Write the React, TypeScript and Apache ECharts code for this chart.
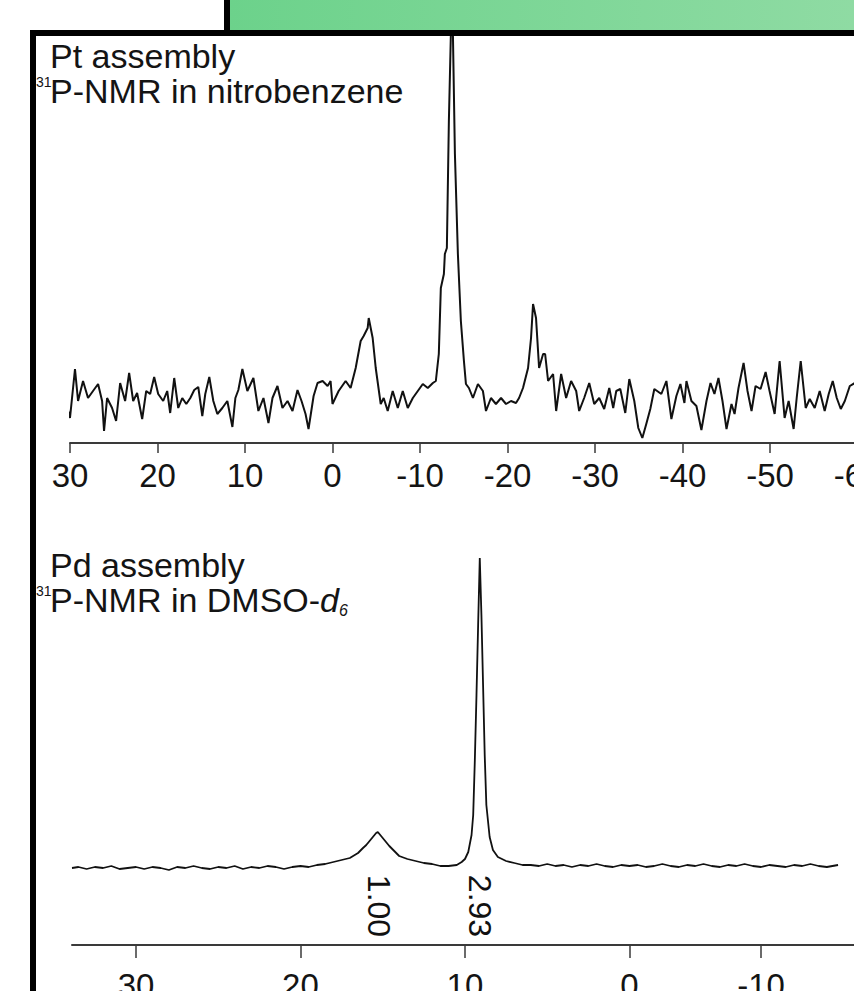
import React, { useEffect, useRef } from "react";
import * as echarts from "echarts";

// Pt assembly, 31P-NMR in nitrobenzene: [ppm, intensity (px above baseline axis)]
const ptSpectrum: [number, number][] = [
  [30.57, 44], [30.0, 25], [29.43, 74], [29.08, 42], [28.51, 62], [27.94, 45], [27.37, 52], [26.79, 59],
  [26.33, 42], [26.11, 12], [25.76, 45], [25.19, 35], [24.73, 22], [24.27, 60], [23.7, 42], [23.24, 70],
  [22.78, 42], [22.33, 50], [21.75, 24], [21.29, 52], [20.84, 49], [20.38, 66], [19.92, 49], [19.35, 42],
  [18.89, 52], [18.55, 30], [18.09, 65], [17.63, 35], [17.17, 45], [16.71, 39], [16.25, 45], [15.8, 53],
  [15.34, 56], [14.88, 27], [14.54, 49], [14.08, 66], [13.62, 42], [13.16, 29], [12.59, 35], [12.02, 42],
  [11.44, 16], [11.1, 45], [10.76, 53], [10.3, 74], [9.73, 52], [9.04, 65], [8.47, 32], [7.89, 45],
  [7.32, 20], [6.86, 45], [6.29, 57], [5.72, 35], [5.14, 42], [4.57, 32], [4.0, 53], [3.54, 42],
  [3.08, 29], [2.74, 14], [2.16, 47], [1.71, 60], [1.13, 62], [0.56, 57], [0.22, 62], [0.0, 39],
  [-0.7, 52], [-1.5, 62], [-2.07, 55], [-2.65, 75], [-3.22, 102], [-3.56, 107], [-4.02, 115], [-4.14, 125],
  [-4.59, 105], [-4.94, 75], [-5.51, 39], [-5.85, 45], [-6.31, 32], [-6.88, 52], [-7.46, 35], [-8.03, 52],
  [-8.6, 35], [-9.18, 45], [-9.75, 52], [-10.32, 59], [-10.89, 55], [-11.47, 60], [-11.81, 62], [-12.15, 89],
  [-12.38, 155], [-12.73, 169], [-12.84, 189], [-13.07, 195], [-13.3, 322], [-13.53, 410], [-13.76, 410],
  [-13.99, 289], [-14.33, 189], [-14.67, 122], [-15.02, 82], [-15.25, 59], [-15.59, 55], [-16.05, 45],
  [-16.62, 59], [-17.19, 52], [-17.54, 32], [-18.11, 45], [-18.68, 39], [-19.26, 45], [-19.83, 39],
  [-20.4, 42], [-20.97, 40], [-21.32, 45], [-21.77, 55], [-22.35, 75], [-22.69, 105], [-22.92, 139],
  [-23.26, 125], [-23.61, 75], [-24.07, 89], [-24.3, 89], [-24.64, 62], [-25.21, 69], [-25.56, 32],
  [-26.13, 69], [-26.7, 45], [-27.27, 62], [-27.85, 52], [-28.19, 32], [-28.76, 45], [-29.34, 60],
  [-29.91, 39], [-30.48, 45], [-31.05, 34], [-31.63, 55], [-32.08, 35], [-32.43, 52], [-32.89, 54],
  [-33.46, 30], [-33.92, 64], [-34.49, 42], [-34.95, 15], [-35.41, 5], [-35.86, 19], [-36.32, 34],
  [-36.78, 54], [-37.58, 49], [-38.16, 62], [-38.73, 24], [-39.3, 47], [-39.76, 59], [-40.22, 40],
  [-40.45, 62], [-41.02, 42], [-41.59, 37], [-42.16, 13], [-42.74, 42], [-43.2, 60], [-43.65, 49],
  [-44.11, 65], [-44.57, 42], [-45.03, 14], [-45.6, 39], [-45.95, 29], [-46.4, 55], [-46.98, 80],
  [-47.43, 52], [-47.89, 32], [-48.35, 57], [-48.92, 54], [-49.5, 71], [-49.95, 52], [-50.53, 29],
  [-51.1, 82], [-51.67, 25], [-52.13, 42], [-52.7, 14], [-53.05, 45], [-53.51, 82], [-54.08, 35],
  [-54.54, 44], [-55.11, 35], [-55.68, 52], [-56.25, 32], [-56.71, 49], [-57.17, 62], [-57.63, 45],
  [-58.09, 34], [-58.55, 42], [-59.12, 57], [-59.69, 60],
];

// Pd assembly, 31P-NMR in DMSO-d6: [ppm, intensity]
const pdSpectrum: [number, number][] = [
  [33.89, 77], [33.5, 78], [33.0, 76], [32.5, 78], [32.0, 77], [31.5, 79], [31.0, 76], [30.5, 77],
  [30.0, 78], [29.5, 76], [29.0, 78], [28.5, 77], [28.0, 75], [27.5, 78], [27.0, 77], [26.5, 79],
  [26.0, 77], [25.5, 76], [25.0, 78], [24.5, 77], [24.0, 79], [23.5, 76], [23.0, 78], [22.5, 77],
  [22.0, 79], [21.5, 78], [21.0, 76], [20.5, 78], [20.0, 79], [19.5, 78], [19.0, 80], [18.5, 81],
  [18.0, 83], [17.5, 85], [17.0, 87], [16.5, 92], [16.2, 97], [16.0, 100], [15.8, 104], [15.6, 108],
  [15.4, 112], [15.3, 113], [15.1, 109], [14.9, 105], [14.6, 99], [14.3, 94], [14.0, 89], [13.5, 86],
  [13.0, 84], [12.5, 82], [12.0, 81], [11.5, 79], [11.0, 79], [10.5, 80], [10.2, 83], [10.0, 86],
  [9.8, 93], [9.6, 110], [9.5, 130], [9.4, 185], [9.3, 250], [9.2, 320], [9.1, 387], [9.0, 330],
  [8.9, 260], [8.8, 190], [8.7, 140], [8.5, 108], [8.3, 95], [8.0, 88], [7.5, 84], [7.0, 82],
  [6.5, 80], [6.0, 80], [5.5, 79], [5.0, 81], [4.5, 79], [4.0, 80], [3.5, 78], [3.0, 80],
  [2.5, 79], [2.0, 81], [1.5, 79], [1.0, 78], [0.5, 80], [0.0, 79], [-0.5, 80], [-1.0, 78],
  [-1.5, 79], [-2.0, 81], [-2.5, 79], [-3.0, 78], [-3.5, 80], [-4.0, 79], [-4.5, 81], [-5.0, 79],
  [-5.5, 78], [-6.0, 80], [-6.5, 79], [-7.0, 81], [-7.5, 79], [-8.0, 78], [-8.5, 80], [-9.0, 79],
  [-9.5, 78], [-10.0, 80], [-10.5, 79], [-11.0, 81], [-11.5, 79], [-12.0, 78], [-12.68, 80],
];

const integralPpm = [15.2, 9.1];
const integralText = ["1.00", "2.93"];

// Top axis: regular ticks every 10 ppm from -60 to 30
const ptTickInterval = 10;
// Bottom axis: the reference draws its "-10" tick where -8 falls on the 30..0 spacing
const pdTickValues = [30, 20, 10, 0, -8];
const pdTickLabels = ["30", "20", "10", "0", "-10"];

const FONT = "'Liberation Sans', Arial, Helvetica, sans-serif";
const TEXT = "#141414";

function measure(t: string, font: string): number {
  const c = document.createElement("canvas").getContext("2d");
  if (!c) return t.length * 18;
  c.font = font;
  return c.measureText(t).width;
}

export default function App() {
  const ref = useRef<HTMLDivElement>(null);

  useEffect(() => {
    if (!ref.current) return;
    const chart = echarts.init(ref.current, undefined, { renderer: "svg" });

    const nmrX = 50;
    const dmsoX = nmrX + measure("P-NMR in DMSO-", `34px ${FONT}`);
    const dX = dmsoX + measure("d", `italic 34px ${FONT}`);

    const option: any = {
      animation: false,
      backgroundColor: "#ffffff",
      grid: [
        { left: 70, right: 42.5, top: 36, height: 407, containLabel: false, outerBoundsMode: "none" },
        { left: 72, right: 46, top: 500, height: 445, containLabel: false, outerBoundsMode: "none" },
      ],
      xAxis: [
        {
          gridIndex: 0,
          type: "value",
          inverse: true,
          min: -60,
          max: 30,
          interval: ptTickInterval,
          axisLine: { show: true, onZero: false, lineStyle: { color: "#3a3a3a", width: 2 } },
          axisTick: { show: true, length: 10, lineStyle: { color: "#3a3a3a", width: 1.5 } },
          axisLabel: { show: true, fontSize: 33, fontFamily: FONT, color: TEXT, margin: 16 },
          splitLine: { show: false },
        },
        {
          gridIndex: 1,
          type: "value",
          inverse: true,
          min: -13.65,
          max: 33.89,
          axisLine: { show: true, onZero: false, lineStyle: { color: "#3a3a3a", width: 2 } },
          axisTick: { show: true, length: 13, customValues: pdTickValues, lineStyle: { color: "#3a3a3a", width: 1.5 } },
          axisLabel: {
            show: true,
            fontSize: 33,
            fontFamily: FONT,
            color: TEXT,
            margin: 24,
            customValues: pdTickValues,
            formatter: (v: number) => {
              const i = pdTickValues.findIndex((t) => Math.abs(t - v) < 1e-6);
              return i >= 0 ? pdTickLabels[i] : "";
            },
          },
          splitLine: { show: false },
        },
      ],
      yAxis: [
        { gridIndex: 0, type: "value", min: 0, max: 407, show: false, splitLine: { show: false } },
        { gridIndex: 1, type: "value", min: 0, max: 445, show: false, splitLine: { show: false } },
      ],
      series: [
        {
          type: "line",
          xAxisIndex: 0,
          yAxisIndex: 0,
          data: ptSpectrum,
          showSymbol: false,
          symbol: "none",
          clip: false,
          lineStyle: { color: "#111", width: 2 },
          z: 3,
        },
        {
          type: "line",
          xAxisIndex: 1,
          yAxisIndex: 1,
          data: pdSpectrum,
          showSymbol: false,
          symbol: "none",
          lineStyle: { color: "#111", width: 1.8 },
          z: 3,
        },
        {
          type: "scatter",
          xAxisIndex: 1,
          yAxisIndex: 1,
          data: integralPpm.map((p) => [p, 39]),
          symbolSize: 1,
          itemStyle: { color: "rgba(0,0,0,0)" },
          label: {
            show: true,
            position: "inside",
            rotate: -90,
            fontSize: 32,
            fontFamily: FONT,
            color: "#111111",
            opacity: 1,
            textBorderWidth: 0,
            formatter: (p: any) => integralText[p.dataIndex],
          },
          emphasis: { disabled: true },
          z: 4,
        },
      ],
      graphic: [
        {
          type: "rect",
          z: 100,
          shape: { x: 229, y: 0, width: 700, height: 30 },
          style: {
            fill: new echarts.graphic.LinearGradient(0, 0, 1, 0, [
              { offset: 0, color: "#6cd28b" },
              { offset: 1, color: "#93dca6" },
            ]),
          },
        },
        { type: "rect", z: 101, shape: { x: 224, y: 0, width: 6, height: 32 }, style: { fill: "#000" } },
        { type: "rect", z: 101, shape: { x: 30, y: 30, width: 900, height: 6 }, style: { fill: "#000" } },
        { type: "rect", z: 101, shape: { x: 30, y: 30, width: 6, height: 961 }, style: { fill: "#000" } },
        {
          type: "text", z: 102, x: 50, y: 56,
          style: { text: "Pt assembly", fontSize: 34, fontFamily: FONT, fill: TEXT, verticalAlign: "middle" },
        },
        {
          type: "text", z: 102, x: 36, y: 82,
          style: { text: "31", fontSize: 14, fontFamily: FONT, fill: TEXT, verticalAlign: "middle" },
        },
        {
          type: "text", z: 102, x: nmrX, y: 91,
          style: { text: "P-NMR in nitrobenzene", fontSize: 34, fontFamily: FONT, fill: TEXT, verticalAlign: "middle" },
        },
        {
          type: "text", z: 102, x: 50, y: 565,
          style: { text: "Pd assembly", fontSize: 34, fontFamily: FONT, fill: TEXT, verticalAlign: "middle" },
        },
        {
          type: "text", z: 102, x: 36, y: 591,
          style: { text: "31", fontSize: 14, fontFamily: FONT, fill: TEXT, verticalAlign: "middle" },
        },
        {
          type: "text", z: 102, x: nmrX, y: 600,
          style: { text: "P-NMR in DMSO-", fontSize: 34, fontFamily: FONT, fill: TEXT, verticalAlign: "middle" },
        },
        {
          type: "text", z: 102, x: dmsoX, y: 600,
          style: { text: "d", fontSize: 34, fontStyle: "italic", fontFamily: FONT, fill: TEXT, verticalAlign: "middle" },
        },
        {
          type: "text", z: 102, x: dX, y: 610,
          style: { text: "6", fontSize: 16, fontStyle: "italic", fontFamily: FONT, fill: TEXT, verticalAlign: "middle" },
        },
      ],
    };

    chart.setOption(option);
    return () => chart.dispose();
  }, []);

  return (
    <div
      style={{
        position: "fixed",
        left: 0,
        top: 0,
        width: 854,
        height: 991,
        overflow: "hidden",
        background: "#fff",
      }}
    >
      <div ref={ref} style={{ width: 900, height: 991 }} />
    </div>
  );
}
